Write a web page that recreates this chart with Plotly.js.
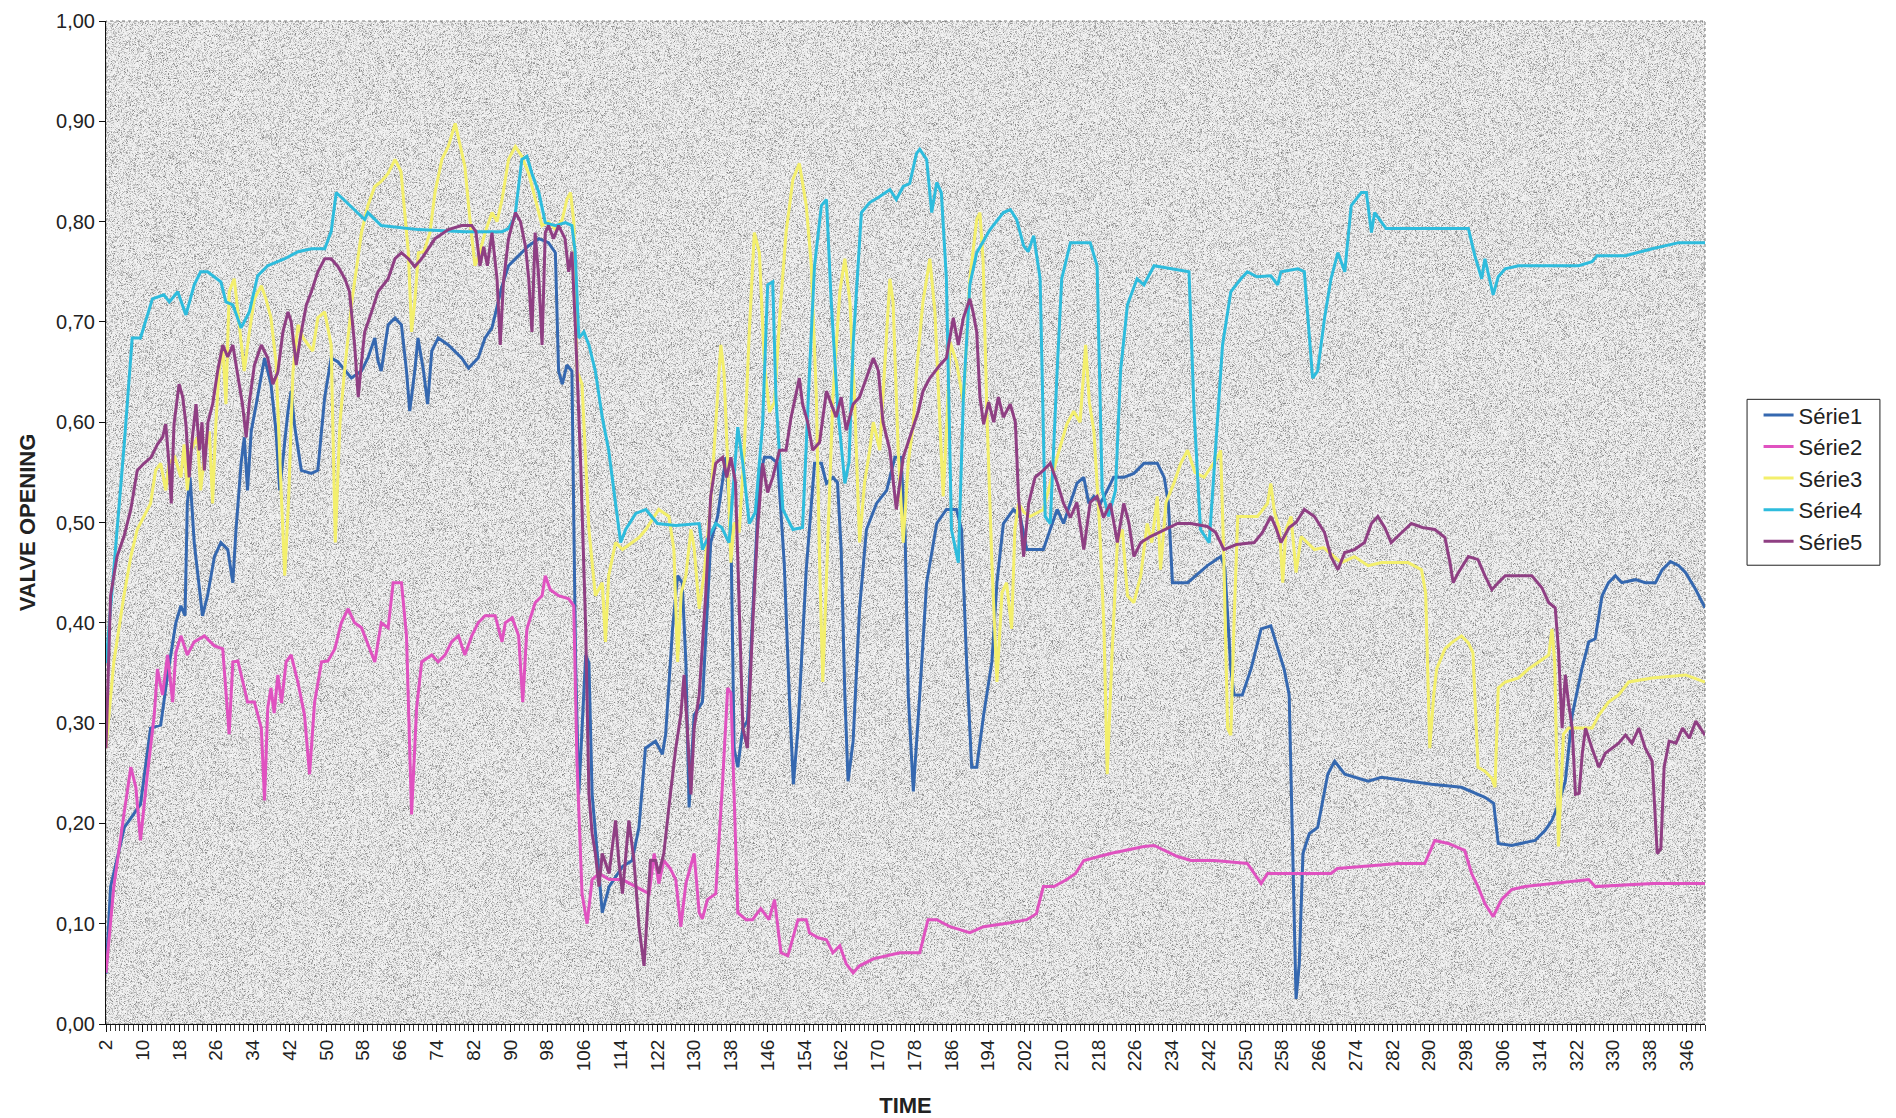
<!DOCTYPE html>
<html>
<head>
<meta charset="utf-8">
<script src="https://cdn.plot.ly/plotly-3.0.1.min.js"></script>
<style>
  html, body { margin: 0; padding: 0; background: #ffffff; }
  #chart { width: 1896px; height: 1118px; }
</style>
</head>
<body>
<div id="chart"></div>
<script>
// Valve opening readings, [time, opening] pairs
const serie1 = [[2,0.05],[3,0.137],[6,0.196],[9.5,0.219],[11.7,0.295],[13.9,0.298],[15.4,0.348],[17.2,0.40],[18.3,0.417],[19.2,0.407],[19.7,0.519],[20.3,0.545],[21.2,0.48],[21.9,0.453],[23,0.407],[24.1,0.427],[25.6,0.466],[27,0.48],[28.5,0.473],[29.6,0.44],[30.3,0.493],[31.4,0.559],[32.1,0.585],[32.8,0.532],[33.6,0.591],[34.7,0.618],[36.5,0.664],[37.9,0.638],[39,0.591],[39.8,0.532],[40.5,0.565],[41.6,0.611],[42.3,0.631],[43,0.598],[44.5,0.552],[46.7,0.549],[48.1,0.552],[49.6,0.625],[51,0.664],[52.5,0.66],[55.4,0.644],[57.6,0.651],[59,0.664],[60.5,0.684],[61.2,0.661],[61.9,0.651],[63.4,0.697],[64.9,0.704],[66.3,0.697],[67.4,0.651],[68.1,0.611],[69.2,0.651],[69.9,0.684],[71.1,0.651],[72,0.618],[72.9,0.671],[74.3,0.684],[76.5,0.677],[79.4,0.664],[80.9,0.654],[83,0.664],[84.5,0.684],[86,0.694],[88.2,0.736],[89.6,0.756],[91.8,0.766],[94,0.776],[96.2,0.783],[98.3,0.779],[99.8,0.769],[100.5,0.651],[101.3,0.638],[102.3,0.657],[103.4,0.651],[104.2,0.361],[104.9,0.229],[105.6,0.30],[106.4,0.368],[107.1,0.36],[107.8,0.229],[109.3,0.15],[110,0.111],[111.5,0.137],[114.4,0.157],[116.5,0.163],[118,0.196],[119.4,0.275],[121.6,0.282],[123.1,0.269],[123.8,0.289],[125.3,0.394],[126.4,0.447],[127.4,0.44],[128.2,0.361],[128.9,0.216],[130,0.308],[131.8,0.321],[132.5,0.387],[133.6,0.48],[135.1,0.506],[136.9,0.565],[138,0.493],[138.7,0.275],[139.5,0.256],[140.6,0.295],[141.6,0.302],[143.1,0.44],[144.2,0.545],[145.3,0.565],[146.7,0.565],[148.2,0.559],[149.6,0.46],[150.7,0.328],[151.6,0.239],[152.6,0.295],[154.4,0.453],[156.2,0.559],[157.7,0.559],[158.8,0.539],[160.2,0.545],[161.2,0.54],[162,0.473],[162.8,0.328],[163.5,0.242],[164.6,0.282],[166,0.414],[167.5,0.493],[169.7,0.519],[171.9,0.532],[173.7,0.565],[175,0.565],[175.9,0.493],[176.6,0.328],[177.7,0.232],[179.1,0.328],[180.6,0.44],[182.8,0.499],[184.9,0.513],[187.1,0.513],[188.2,0.493],[189.3,0.361],[190.4,0.256],[191.5,0.256],[193,0.308],[194.8,0.361],[195.9,0.44],[197.3,0.499],[199.5,0.513],[201,0.505],[202.4,0.473],[206,0.473],[207.5,0.493],[209,0.513],[210.4,0.499],[211.9,0.519],[213.3,0.539],[214.8,0.545],[215.9,0.519],[217,0.526],[218.4,0.519],[219.9,0.532],[221.3,0.545],[223.5,0.545],[225.7,0.549],[227.9,0.559],[230.8,0.559],[232.3,0.545],[233.2,0.52],[234.1,0.44],[237.4,0.44],[241.7,0.457],[244.6,0.466],[245.5,0.455],[246.8,0.354],[247.5,0.328],[249.3,0.328],[251.2,0.354],[253.4,0.394],[255.5,0.397],[257,0.374],[258.4,0.354],[259.5,0.328],[260.3,0.163],[261,0.025],[261.7,0.06],[262.5,0.17],[263.9,0.19],[265.7,0.196],[267.9,0.249],[269.4,0.262],[271.6,0.249],[273.7,0.246],[276.7,0.242],[279.6,0.246],[286.8,0.241],[290.5,0.239],[297,0.236],[302.1,0.226],[304,0.22],[305,0.18],[307.9,0.178],[313,0.183],[315.2,0.193],[316.7,0.203],[318.1,0.219],[319.6,0.242],[321.1,0.308],[323.2,0.354],[324.7,0.381],[326.1,0.384],[327.6,0.427],[329,0.44],[330.5,0.447],[331.9,0.44],[334.9,0.443],[337,0.44],[339.2,0.44],[340.7,0.453],[342.5,0.461],[344.3,0.457],[345.8,0.45],[348,0.433],[350,0.415]];

const serie2 = [[2,0.051],[3.7,0.137],[5.9,0.209],[7.4,0.256],[8.5,0.236],[9.5,0.183],[11,0.249],[12.5,0.308],[13.2,0.354],[14.3,0.328],[15.4,0.368],[16.5,0.321],[17.2,0.37],[18.3,0.387],[19.7,0.368],[21.2,0.381],[23.4,0.387],[25.6,0.377],[27.4,0.374],[28.1,0.328],[28.8,0.289],[29.6,0.361],[30.7,0.362],[32.1,0.335],[32.8,0.321],[34.3,0.321],[35.8,0.295],[36.5,0.223],[37.2,0.315],[37.9,0.335],[38.6,0.31],[39.4,0.348],[40.2,0.32],[41.2,0.361],[42.3,0.368],[43.8,0.34],[45.2,0.308],[46.3,0.249],[47.4,0.321],[48.9,0.361],[50.3,0.362],[51.8,0.374],[53.2,0.40],[54.7,0.414],[56.1,0.40],[57.6,0.395],[59,0.378],[60.5,0.361],[61.9,0.40],[63.4,0.395],[64.5,0.44],[66.3,0.44],[67.4,0.387],[68.5,0.209],[69.6,0.315],[70.7,0.361],[72.9,0.368],[74.3,0.361],[75.8,0.368],[77.2,0.381],[78.7,0.387],[80.1,0.368],[81.6,0.387],[83,0.40],[84.5,0.407],[86.7,0.407],[88.2,0.381],[88.9,0.40],[90.4,0.405],[91.8,0.387],[92.7,0.321],[93.6,0.394],[95.4,0.42],[96.9,0.427],[97.6,0.447],[98.7,0.433],[100.5,0.427],[102.7,0.424],[103.8,0.417],[104.5,0.262],[105.6,0.13],[106.7,0.10],[107.8,0.144],[109.3,0.15],[111.5,0.144],[114.4,0.144],[117.3,0.137],[120.2,0.13],[121.3,0.17],[122.3,0.14],[123.4,0.163],[124.8,0.155],[126,0.144],[127.1,0.097],[128.2,0.14],[129.3,0.16],[130,0.17],[131.1,0.111],[131.8,0.105],[132.9,0.124],[134.7,0.13],[136.2,0.242],[137.3,0.335],[138,0.33],[138.7,0.229],[139.5,0.111],[141.3,0.104],[142.7,0.104],[144.5,0.115],[146.3,0.104],[147.5,0.124],[148.2,0.10],[148.9,0.071],[150.4,0.068],[151.5,0.085],[152.6,0.104],[154.4,0.104],[155.1,0.091],[157,0.086],[158.8,0.084],[160.2,0.071],[161.7,0.078],[163.1,0.06],[164.6,0.051],[166,0.058],[169,0.065],[171.9,0.068],[174.8,0.071],[179.1,0.071],[180.9,0.104],[182.8,0.104],[185.7,0.097],[190,0.091],[193,0.097],[198.8,0.101],[202.4,0.104],[204.5,0.11],[206,0.137],[208.3,0.137],[211.1,0.144],[213,0.15],[214.8,0.163],[220.6,0.17],[227.9,0.177],[230.1,0.178],[232.3,0.173],[235.2,0.167],[238.1,0.163],[243.2,0.163],[250.4,0.16],[251.9,0.15],[253.4,0.14],[254.8,0.15],[261.4,0.15],[268.6,0.15],[270,0.155],[283.2,0.16],[289,0.16],[291.2,0.183],[294.1,0.18],[297.7,0.173],[299.2,0.15],[300.6,0.137],[302.1,0.12],[303.9,0.107],[305.7,0.124],[307.9,0.134],[310.8,0.137],[316.7,0.14],[324.7,0.144],[326.1,0.137],[338.5,0.14],[350,0.14]];

const serie3 = [[2,0.275],[3.7,0.361],[5.9,0.427],[7.4,0.466],[8.8,0.493],[10.3,0.506],[11.7,0.519],[12.8,0.552],[13.9,0.559],[15,0.532],[15.7,0.559],[17,0.565],[18.3,0.545],[19,0.578],[19.7,0.532],[20.5,0.572],[21.9,0.585],[22.6,0.532],[23.5,0.57],[24.5,0.591],[25.2,0.519],[25.9,0.598],[26.6,0.651],[27.4,0.677],[28.1,0.618],[28.8,0.73],[29.9,0.743],[30.7,0.71],[32.1,0.651],[33.2,0.69],[34.3,0.723],[35.8,0.736],[36.8,0.723],[37.9,0.704],[39,0.66],[40,0.545],[40.9,0.447],[41.7,0.519],[42.7,0.651],[43.8,0.697],[44.9,0.684],[47,0.671],[48.1,0.704],[49.6,0.71],[51,0.677],[51.9,0.48],[52.9,0.598],[53.9,0.651],[55.5,0.72],[57.6,0.789],[59,0.816],[60.5,0.835],[61.9,0.84],[63.4,0.848],[64.9,0.862],[66.2,0.85],[67,0.809],[67.8,0.769],[68.5,0.69],[69.2,0.72],[70,0.769],[71.2,0.77],[72.5,0.789],[73.6,0.829],[75.1,0.862],[76.5,0.875],[78,0.898],[79.1,0.875],[80.1,0.855],[81.2,0.802],[82.3,0.756],[83.4,0.77],[84.5,0.789],[86,0.809],[87.1,0.80],[88.2,0.822],[89.6,0.862],[91.1,0.875],[92.5,0.865],[94,0.848],[95.4,0.822],[96.9,0.796],[98.3,0.80],[99.8,0.792],[101.3,0.802],[102.3,0.822],[103.1,0.829],[103.8,0.80],[104.5,0.651],[105.6,0.638],[107.1,0.493],[108.5,0.427],[110,0.44],[110.7,0.381],[111.4,0.447],[112.9,0.48],[114.4,0.473],[116.5,0.48],[118,0.485],[119.5,0.493],[122.3,0.513],[124.5,0.506],[125.6,0.473],[126.4,0.361],[127.2,0.43],[128.2,0.447],[129.3,0.493],[130,0.475],[131.1,0.414],[132.2,0.45],[133.6,0.519],[134.7,0.598],[135.8,0.677],[136.5,0.65],[137.3,0.559],[138,0.46],[138.7,0.50],[139.8,0.49],[140.9,0.572],[142,0.69],[143.1,0.789],[144.2,0.769],[145.3,0.657],[146.4,0.61],[147.5,0.62],[148.6,0.704],[150,0.789],[151.5,0.842],[152.9,0.858],[154.4,0.816],[155.5,0.756],[156.6,0.625],[157.3,0.46],[158,0.341],[159.1,0.493],[160.2,0.625],[161.7,0.73],[162.8,0.763],[163.9,0.72],[164.9,0.625],[166,0.48],[167.1,0.54],[168.2,0.572],[169,0.60],[170.4,0.572],[171.5,0.657],[172.6,0.743],[173.3,0.72],[174.4,0.572],[175.5,0.48],[176.6,0.56],[177.7,0.598],[178.4,0.651],[179.8,0.72],[181.3,0.763],[182.4,0.71],[183.5,0.591],[184.2,0.526],[185,0.60],[185.7,0.68],[187.1,0.66],[188.6,0.62],[190,0.743],[191.5,0.802],[192.2,0.809],[192.9,0.76],[193.7,0.611],[194.8,0.46],[195.9,0.341],[197,0.43],[198,0.44],[199.1,0.394],[199.8,0.493],[200.6,0.519],[201.8,0.51],[203.1,0.506],[206,0.513],[207.5,0.54],[209,0.565],[211.1,0.598],[212.6,0.611],[214,0.60],[215.2,0.677],[216,0.62],[217,0.591],[218.2,0.50],[219.2,0.394],[219.9,0.249],[221,0.374],[222.1,0.48],[223.2,0.493],[224.3,0.427],[225.7,0.42],[227.2,0.447],[228.6,0.499],[229.6,0.48],[230.8,0.526],[231.5,0.453],[232.7,0.52],[234.4,0.539],[235.9,0.559],[237.4,0.572],[239,0.55],[241,0.545],[243.9,0.565],[244.6,0.572],[245.3,0.46],[246.1,0.295],[246.8,0.288],[247.5,0.40],[248.3,0.506],[250.4,0.506],[252.6,0.506],[254.8,0.519],[255.5,0.539],[256.3,0.51],[257.4,0.493],[258.1,0.44],[258.8,0.493],[259.9,0.506],[261,0.45],[262.1,0.486],[265,0.473],[267,0.475],[269.4,0.466],[270.8,0.46],[273.7,0.466],[276.7,0.457],[279.6,0.46],[285.4,0.46],[288.3,0.453],[289.2,0.43],[290.1,0.275],[291,0.33],[291.6,0.354],[293.4,0.374],[294.8,0.38],[297,0.387],[298.5,0.38],[299.5,0.37],[300.6,0.256],[302.1,0.252],[303.6,0.245],[304.3,0.236],[305,0.335],[306.5,0.341],[309.4,0.345],[311.6,0.354],[313.8,0.361],[316,0.368],[316.7,0.394],[317.3,0.36],[318.1,0.177],[319.2,0.289],[320.3,0.295],[325.4,0.295],[326.9,0.308],[329,0.321],[331.2,0.328],[333.4,0.341],[338.5,0.345],[345.8,0.348],[350,0.341]];

const serie4 = [[2,0.36],[4,0.47],[6,0.58],[7.7,0.684],[9.5,0.684],[12.1,0.723],[14.6,0.727],[15.8,0.72],[17.6,0.73],[19.4,0.707],[21.2,0.737],[22.6,0.75],[24.1,0.75],[27,0.74],[28.1,0.72],[29.6,0.717],[31.4,0.694],[33.2,0.71],[35,0.746],[37.2,0.756],[40.9,0.763],[43.8,0.77],[46.7,0.773],[49.6,0.773],[51,0.79],[52.1,0.829],[55.4,0.815],[58.3,0.802],[59,0.809],[61.9,0.796],[70,0.792],[80,0.79],[88.2,0.79],[89.6,0.793],[91,0.805],[92.5,0.862],[93.6,0.865],[94.7,0.848],[96.2,0.829],[97.6,0.799],[99.8,0.796],[102,0.799],[103.4,0.796],[104.1,0.77],[104.9,0.684],[106,0.69],[107.1,0.677],[108.5,0.651],[110,0.605],[111.4,0.572],[112.9,0.519],[114,0.48],[115.1,0.493],[117.3,0.509],[119.5,0.513],[122,0.499],[126,0.497],[131.1,0.499],[131.8,0.473],[132.5,0.48],[134.7,0.499],[136,0.495],[137.6,0.48],[139.5,0.595],[140.6,0.559],[142,0.499],[143.3,0.51],[144.9,0.598],[146,0.737],[147.1,0.74],[147.8,0.625],[149.3,0.513],[151.5,0.493],[153.6,0.495],[155.1,0.65],[156.2,0.756],[157.7,0.816],[158.8,0.822],[159.8,0.723],[161.3,0.611],[162.8,0.539],[163.7,0.56],[164.6,0.677],[166.4,0.809],[168.2,0.819],[170.4,0.825],[172.6,0.832],[174,0.822],[175.5,0.835],[176.9,0.838],[178.4,0.868],[179.1,0.872],[180.6,0.862],[181.7,0.809],[182.8,0.839],[183.8,0.829],[184.9,0.743],[186,0.493],[187.5,0.46],[188.6,0.625],[190,0.737],[191.5,0.769],[194.4,0.792],[197.3,0.809],[198.8,0.812],[200.2,0.802],[201.7,0.776],[202.7,0.77],[203.9,0.786],[205.3,0.743],[206.4,0.506],[207.5,0.499],[209,0.651],[210,0.743],[211.9,0.779],[216.2,0.779],[217.7,0.756],[218.8,0.532],[220.2,0.506],[221.7,0.532],[222.8,0.651],[224.3,0.717],[226.4,0.743],[227.9,0.737],[230.1,0.756],[237.7,0.75],[238.8,0.611],[240.2,0.493],[242.1,0.48],[243.2,0.559],[245,0.677],[246.8,0.73],[249,0.743],[250.4,0.75],[252.5,0.745],[255.5,0.746],[257,0.737],[257.7,0.75],[261.4,0.753],[262.8,0.75],[263.9,0.69],[264.6,0.644],[265.7,0.651],[267.2,0.704],[268.6,0.743],[270.1,0.769],[271.6,0.75],[273,0.816],[275.2,0.829],[276.3,0.829],[277.4,0.789],[278.1,0.809],[279.5,0.80],[280.6,0.793],[298.5,0.793],[299.9,0.766],[301.4,0.743],[302.1,0.763],[303.9,0.727],[305,0.745],[306.5,0.753],[309.4,0.756],[322.5,0.756],[325.4,0.76],[326.5,0.766],[332.7,0.766],[338.5,0.773],[344.3,0.779],[350,0.779]];

const serie5 = [[2,0.275],[3,0.427],[4.4,0.466],[5.9,0.486],[7.4,0.513],[8.8,0.552],[10.3,0.559],[11.8,0.565],[13.2,0.578],[14.3,0.585],[15,0.598],[15.7,0.559],[16.2,0.519],[16.8,0.598],[17.9,0.638],[18.7,0.625],[19.4,0.598],[20.1,0.545],[20.8,0.585],[21.6,0.618],[22.3,0.572],[22.9,0.60],[23.4,0.552],[24.2,0.60],[25.2,0.618],[26.3,0.651],[27.4,0.677],[28.5,0.665],[29.6,0.677],[30.6,0.65],[31.7,0.618],[32.5,0.585],[33.2,0.62],[34.3,0.657],[35.8,0.677],[37.2,0.664],[38.3,0.638],[39.4,0.65],[40.5,0.69],[41.6,0.71],[42.3,0.70],[43.4,0.657],[44.5,0.69],[45.6,0.717],[46.7,0.73],[48.1,0.75],[49.6,0.763],[51,0.763],[52.5,0.755],[54,0.743],[55,0.73],[56.1,0.677],[56.9,0.625],[57.6,0.66],[58.3,0.69],[59.8,0.71],[61.2,0.73],[63.4,0.743],[64.9,0.763],[66.3,0.769],[67.8,0.763],[69.2,0.755],[70.7,0.763],[73.6,0.783],[76.5,0.792],[79.4,0.796],[81.6,0.796],[82.5,0.79],[83.4,0.756],[84.2,0.775],[85,0.756],[86,0.789],[87.1,0.743],[87.8,0.677],[88.5,0.74],[89.6,0.783],[91.1,0.809],[92.2,0.80],[93.3,0.775],[94,0.743],[94.7,0.69],[95.4,0.789],[96.2,0.743],[96.9,0.677],[97.6,0.789],[98.3,0.796],[99.4,0.783],[100.5,0.796],[101.9,0.783],[102.7,0.75],[103.4,0.77],[104.2,0.69],[105.3,0.559],[106.4,0.394],[107.1,0.229],[107.8,0.19],[108.5,0.17],[109.3,0.137],[110,0.17],[111.5,0.15],[112.9,0.203],[113.6,0.163],[114.4,0.13],[115.8,0.203],[116.9,0.163],[118,0.097],[119.1,0.058],[120.5,0.163],[121.6,0.163],[122.3,0.15],[123.4,0.17],[124.5,0.216],[126,0.275],[127.1,0.308],[127.8,0.348],[128.5,0.295],[129.3,0.229],[130,0.295],[131.1,0.328],[132.5,0.427],[133.6,0.526],[134.7,0.559],[136.2,0.565],[137.1,0.545],[138,0.565],[139,0.54],[139.8,0.427],[140.6,0.295],[141.6,0.275],[142.7,0.394],[143.8,0.493],[144.9,0.559],[146,0.53],[147.1,0.545],[148.6,0.572],[150,0.572],[151.1,0.605],[152.2,0.631],[152.9,0.644],[153.6,0.618],[154.7,0.60],[155.8,0.572],[157.3,0.58],[158.8,0.631],[159.9,0.618],[160.9,0.605],[162,0.625],[163.1,0.592],[164.6,0.618],[166,0.625],[167.5,0.644],[169,0.664],[170.1,0.651],[171.1,0.60],[172.6,0.572],[174,0.513],[175.5,0.565],[177,0.585],[178.8,0.611],[179.8,0.631],[181.3,0.644],[183.5,0.657],[184.9,0.664],[186.4,0.704],[187.5,0.677],[188.6,0.704],[190,0.723],[190.7,0.71],[191.5,0.69],[192.2,0.625],[193,0.598],[194.1,0.62],[195.2,0.60],[196.2,0.625],[197.3,0.605],[198.8,0.618],[199.9,0.60],[200.6,0.526],[201.7,0.466],[202.8,0.519],[204.2,0.545],[206,0.552],[207.5,0.559],[209,0.54],[210.4,0.519],[211.9,0.505],[213.3,0.52],[214.8,0.473],[216.2,0.52],[217.7,0.526],[219.1,0.505],[220.6,0.519],[222.1,0.48],[223.5,0.519],[224.6,0.50],[225.7,0.466],[227.2,0.48],[229.3,0.486],[232.3,0.493],[235.2,0.499],[238.1,0.499],[241.7,0.496],[243.5,0.49],[245.3,0.473],[248,0.478],[251.9,0.48],[253.7,0.49],[255.5,0.506],[256.6,0.495],[257.7,0.48],[259.5,0.495],[261,0.50],[262.8,0.513],[265,0.506],[267.2,0.49],[268.6,0.466],[270.1,0.453],[271.6,0.47],[273.7,0.473],[275.9,0.48],[277.4,0.499],[278.8,0.506],[280.3,0.495],[281.7,0.48],[284,0.49],[286.1,0.499],[288.5,0.495],[291.2,0.493],[293.4,0.485],[294.5,0.46],[295.2,0.44],[296.3,0.45],[298.5,0.466],[300.6,0.463],[302.1,0.447],[303.6,0.433],[305,0.44],[306.5,0.447],[309.4,0.447],[312.3,0.447],[314.5,0.435],[316,0.42],[317.4,0.415],[318.1,0.374],[318.9,0.295],[319.6,0.348],[320.3,0.32],[321.1,0.295],[321.8,0.229],[322.6,0.23],[323.3,0.27],[324,0.295],[325.4,0.275],[326.9,0.256],[328.3,0.27],[329.8,0.275],[331.2,0.28],[332.7,0.288],[334.1,0.28],[335.6,0.295],[337,0.275],[338.5,0.262],[339.6,0.17],[340.4,0.175],[341.1,0.256],[342.2,0.282],[343.7,0.28],[345.1,0.295],[346.6,0.285],[348,0.302],[350,0.288]];

const seriesNames = ['Série1', 'Série2', 'Série3', 'Série4', 'Série5'];
const seriesColors = ['#3568b0', '#e052c0', '#f3ef6c', '#2ebcdd', '#8f3f83'];
const seriesData = [serie1, serie2, serie3, serie4, serie5];

const timeRange = [2, 350];
const timeTickStart = 2;
const timeTickStep = 8;

// speckled grey fill for the plotting area (deterministic hash noise)
function speckleTexture(w, h) {
  const c = document.createElement('canvas');
  c.width = w; c.height = h;
  const ctx = c.getContext('2d');
  const img = ctx.createImageData(w, h);
  const d = img.data;
  function hash(x, y) {
    let n = (x * 374761393 + y * 668265263) | 0;
    n = (n ^ (n >>> 13)) * 1274126177 | 0;
    n = n ^ (n >>> 16);
    return ((n >>> 0) % 10000) / 10000;
  }
  for (let y = 0; y < h; y++) {
    for (let x = 0; x < w; x++) {
      const r = hash(x, y);
      const r2 = hash(x + 7919, y + 104729);
      let v = 224 + Math.floor(r2 * 24);
      if (r < 0.34) v = 174 + Math.floor(r2 * 40);
      if (r < 0.045) v = 132 + Math.floor(r2 * 30);
      const i = (y * w + x) * 4;
      d[i] = v; d[i + 1] = v; d[i + 2] = v; d[i + 3] = 255;
    }
  }
  ctx.putImageData(img, 0, 0);
  return c.toDataURL('image/png');
}

const traces = seriesData.map((pts, k) => ({
  type: 'scatter',
  mode: 'lines',
  name: seriesNames[k],
  x: pts.map(p => p[0]),
  y: pts.map(p => p[1]),
  line: { color: seriesColors[k], width: 3 },
  hoverinfo: 'x+y+name'
}));

const textFont = 'Liberation Sans, Arial, sans-serif';
const narrowFont = 'Liberation Sans Narrow, Arial Narrow, sans-serif';

const layout = {
  width: 1896,
  height: 1118,
  margin: { l: 106, r: 191, t: 21, b: 94 },
  paper_bgcolor: '#ffffff',
  plot_bgcolor: '#d0d0d0',
  separators: ', ',
  showlegend: true,
  legend: {
    x: 1.0335, xanchor: 'left',
    y: 0.628, yanchor: 'top',
    bgcolor: 'rgba(0,0,0,0)',
    borderwidth: 0,
    font: { family: textFont, size: 22, color: '#222222' },
    tracegroupgap: 0
  },
  xaxis: {
    range: timeRange,
    tickmode: 'linear',
    tick0: timeTickStart,
    dtick: timeTickStep,
    tickangle: -90,
    ticks: 'outside',
    ticklen: 7,
    tickwidth: 1,
    tickcolor: '#111111',
    showline: true,
    linecolor: '#111111',
    linewidth: 1,
    showgrid: false,
    zeroline: false,
    tickfont: { family: textFont, size: 19, color: '#222222' },
    minor: { dtick: 1, ticks: 'outside', ticklen: 6, tickwidth: 1, tickcolor: '#333333', showgrid: false },
    title: { text: 'TIME', standoff: 28, font: { family: narrowFont, size: 22, weight: 700, color: '#222222' } }
  },
  yaxis: {
    range: [0, 1],
    tickmode: 'linear',
    tick0: 0,
    dtick: 0.1,
    tickformat: '.2f',
    ticks: 'outside',
    ticklen: 6,
    tickwidth: 1,
    tickcolor: '#111111',
    showline: true,
    linecolor: '#111111',
    linewidth: 1,
    showgrid: false,
    zeroline: false,
    tickfont: { family: textFont, size: 20, color: '#222222' },
    title: { text: 'VALVE OPENING', standoff: 14, font: { family: narrowFont, size: 22, weight: 700, color: '#222222' } }
  },
  shapes: [
    {
      // dotted frame of the plotting area
      type: 'rect', xref: 'paper', yref: 'paper', x0: 0, x1: 1, y0: 0, y1: 1,
      line: { color: '#7a7a7a', width: 1, dash: 'dot' }, layer: 'below'
    },
    {
      // legend frame
      type: 'rect', xref: 'paper', yref: 'paper', x0: 1.0263, x1: 1.1094, y0: 0.4574, y1: 0.6228,
      line: { color: '#222222', width: 1 }, fillcolor: '#ffffff', layer: 'below'
    }
  ],
  images: [{
    source: speckleTexture(1599, 1003),
    xref: 'paper', yref: 'paper', x: 0, y: 1, sizex: 1, sizey: 1,
    sizing: 'stretch', xanchor: 'left', yanchor: 'top', layer: 'below'
  }]
};

Plotly.newPlot('chart', traces, layout, { displayModeBar: false, responsive: false });
</script>
</body>
</html>
